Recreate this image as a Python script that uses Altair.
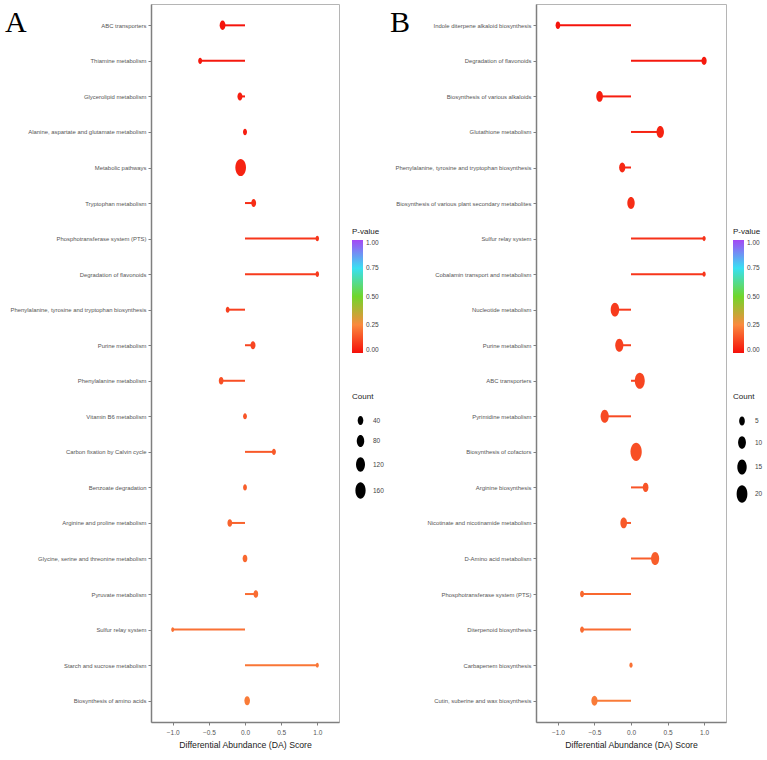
import altair as alt
import pandas as pd

# ---------------- Panel A data ----------------
a_pathways = [
    "ABC transporters",
    "Thiamine metabolism",
    "Glycerolipid metabolism",
    "Alanine, aspartate and glutamate metabolism",
    "Metabolic pathways",
    "Tryptophan metabolism",
    "Phosphotransferase system (PTS)",
    "Degradation of flavonoids",
    "Phenylalanine, tyrosine and tryptophan biosynthesis",
    "Purine metabolism",
    "Phenylalanine metabolism",
    "Vitamin B6 metabolism",
    "Carbon fixation by Calvin cycle",
    "Benzoate degradation",
    "Arginine and proline metabolism",
    "Glycine, serine and threonine metabolism",
    "Pyruvate metabolism",
    "Sulfur relay system",
    "Starch and sucrose metabolism",
    "Biosynthesis of amino acids",
]
a_score = [-0.31, -0.62, -0.07, 0.0, -0.06, 0.12, 1.0, 1.0, -0.24, 0.11,
           -0.33, 0.0, 0.40, 0.0, -0.21, 0.0, 0.15, -1.0, 1.0, 0.03]
a_count = [45, 15, 30, 15, 175, 28, 8, 8, 12, 30,
           25, 12, 15, 12, 25, 25, 25, 3, 3, 40]
a_pvalue = [0.01, 0.02, 0.03, 0.03, 0.04, 0.06, 0.08, 0.09, 0.10, 0.11,
            0.13, 0.14, 0.15, 0.16, 0.17, 0.18, 0.19, 0.20, 0.21, 0.22]

# ---------------- Panel B data ----------------
b_pathways = [
    "Indole diterpene alkaloid biosynthesis",
    "Degradation of flavonoids",
    "Biosynthesis of various alkaloids",
    "Glutathione metabolism",
    "Phenylalanine, tyrosine and tryptophan biosynthesis",
    "Biosynthesis of various plant secondary metabolites",
    "Sulfur relay system",
    "Cobalamin transport and metabolism",
    "Nucleotide metabolism",
    "Purine metabolism",
    "ABC transporters",
    "Pyrimidine metabolism",
    "Biosynthesis of cofactors",
    "Arginine biosynthesis",
    "Nicotinate and nicotinamide metabolism",
    "D-Amino acid metabolism",
    "Phosphotransferase system (PTS)",
    "Diterpenoid biosynthesis",
    "Carbapenem biosynthesis",
    "Cutin, suberine and wax biosynthesis",
]
b_score = [-1.0, 1.0, -0.43, 0.40, -0.12, 0.0, 1.0, 1.0, -0.22, -0.16,
           0.12, -0.36, 0.07, 0.20, -0.10, 0.33, -0.67, -0.67, 0.0, -0.50]
b_count = [3, 4, 7, 9, 6, 9, 1, 1, 12, 11,
           17, 11, 22, 5, 7, 11, 2, 2, 1, 6]
b_pvalue = [0.01, 0.02, 0.03, 0.04, 0.05, 0.06, 0.07, 0.08, 0.09, 0.10,
            0.11, 0.12, 0.13, 0.14, 0.15, 0.16, 0.18, 0.19, 0.20, 0.22]

# ---------------- shared ticks / legend values ----------------
x_ticks = [-1.0, -0.5, 0.0, 0.5, 1.0]
p_ticks = [0.0, 0.25, 0.5, 0.75, 1.0]
p_ticks_stroke = [0.0, 0.25, 0.5, 0.75, 1.000001]
p_colors = ["#F50F0A", "#FA8A3E", "#70D62A", "#38E0F2", "#A448F5"]
a_size_ticks = [40, 80, 120, 160]
b_size_ticks = [5, 10, 15, 20]

FONT = "Liberation Sans"
ELLIPSE = "M0,-1A0.62,1 0 1,1 0,1A0.62,1 0 1,1 0,-1Z"
PH = 718


def panel(names, scores, counts, pvals, size_domain, size_range, size_vals,
          letter, pw, leg_x):
    df = pd.DataFrame({"Pathway": names, "Score": scores, "Count": counts,
                       "P": pvals, "Zero": [0.0] * len(names)})
    x = alt.X("Score:Q",
              scale=alt.Scale(domain=[-1.3, 1.3], nice=False, zero=False),
              axis=alt.Axis(values=x_ticks, format=".1f", grid=False,
                            title="Differential Abundance (DA) Score",
                            titleFont=FONT, titleFontSize=8.7, titleFontWeight="normal",
                            titleColor="#222222", titlePadding=5,
                            labelFont=FONT, labelFontSize=6.5, labelColor="#555555",
                            domainColor="#7F7F7F", domainWidth=1.5,
                            tickColor="#7F7F7F", tickSize=3, labelPadding=4))
    y = alt.Y("Pathway:N", sort=names,
              scale=alt.Scale(type="point", padding=0.6),
              axis=alt.Axis(title=None, grid=False,
                            labelFont=FONT, labelFontSize=5.9, labelColor="#555555",
                            labelLimit=0, labelPadding=2,
                            domainColor="#7F7F7F", domainWidth=1.5,
                            tickColor="#7F7F7F", tickSize=3,
                            minExtent=150, maxExtent=150))
    fill_scale = alt.Scale(domain=p_ticks, range=p_colors, interpolate="rgb")
    stroke_scale = alt.Scale(domain=p_ticks_stroke, range=p_colors, interpolate="rgb")
    fill_leg = alt.Fill("P:Q", scale=fill_scale,
                        legend=alt.Legend(type="gradient", title="P-value", orient="none",
                                          legendX=leg_x, legendY=224,
                                          values=p_ticks, format=".2f",
                                          gradientLength=113, gradientThickness=11,
                                          gradientStrokeWidth=0,
                                          titleFont=FONT, titleFontSize=8,
                                          titleFontWeight="normal", titleColor="#222222",
                                          titlePadding=4,
                                          labelFont=FONT, labelFontSize=6.5,
                                          labelColor="#444444", labelOffset=3))
    stroke_noleg = alt.Stroke("P:Q", scale=stroke_scale, legend=None)
    size = alt.Size("Count:Q",
                    scale=alt.Scale(domain=size_domain, range=size_range, zero=False),
                    legend=alt.Legend(title="Count", orient="none",
                                      legendX=leg_x, legendY=389,
                                      values=size_vals, symbolType=ELLIPSE,
                                      symbolFillColor="black", symbolStrokeColor="black",
                                      symbolStrokeWidth=0, symbolOpacity=1,
                                      rowPadding=10,
                                      titleFont=FONT, titleFontSize=8,
                                      titleFontWeight="normal", titleColor="#222222",
                                      titlePadding=15,
                                      labelFont=FONT, labelFontSize=6.5,
                                      labelColor="#444444"))
    rules = alt.Chart(df).mark_rule(strokeWidth=2).encode(
        x=x, x2="Zero:Q", y=y, stroke=stroke_noleg)
    points = alt.Chart(df).mark_point(shape=ELLIPSE, filled=True, opacity=1,
                                      strokeWidth=0).encode(
        x=x, y=y, fill=fill_leg, size=size)
    lab = alt.Chart(pd.DataFrame({"t": [letter]})).mark_text(
        font="Liberation Serif", fontSize=30, align="left", baseline="top",
        color="black").encode(text="t:N", x=alt.value(-146), y=alt.value(4))
    return alt.layer(rules, points, lab).properties(width=pw, height=PH)


pa = panel(a_pathways, a_score, a_count, a_pvalue, [0, 160], [18, 270],
           a_size_ticks, "A", 188, 201)
pb = panel(b_pathways, b_score, b_count, b_pvalue, [0, 20], [12, 302],
           b_size_ticks, "B", 190, 197)

chart = alt.hconcat(pa, pb, spacing=0).resolve_scale(
    fill="independent", stroke="independent", size="independent",
    x="independent", y="independent"
).properties(
    padding={"left": 0, "top": 3, "right": 0, "bottom": 0},
    background="white",
).configure_view(stroke="#B5B5B5", strokeWidth=1)

chart.save("out.html", embed_options={"renderer": "svg", "actions": False})
